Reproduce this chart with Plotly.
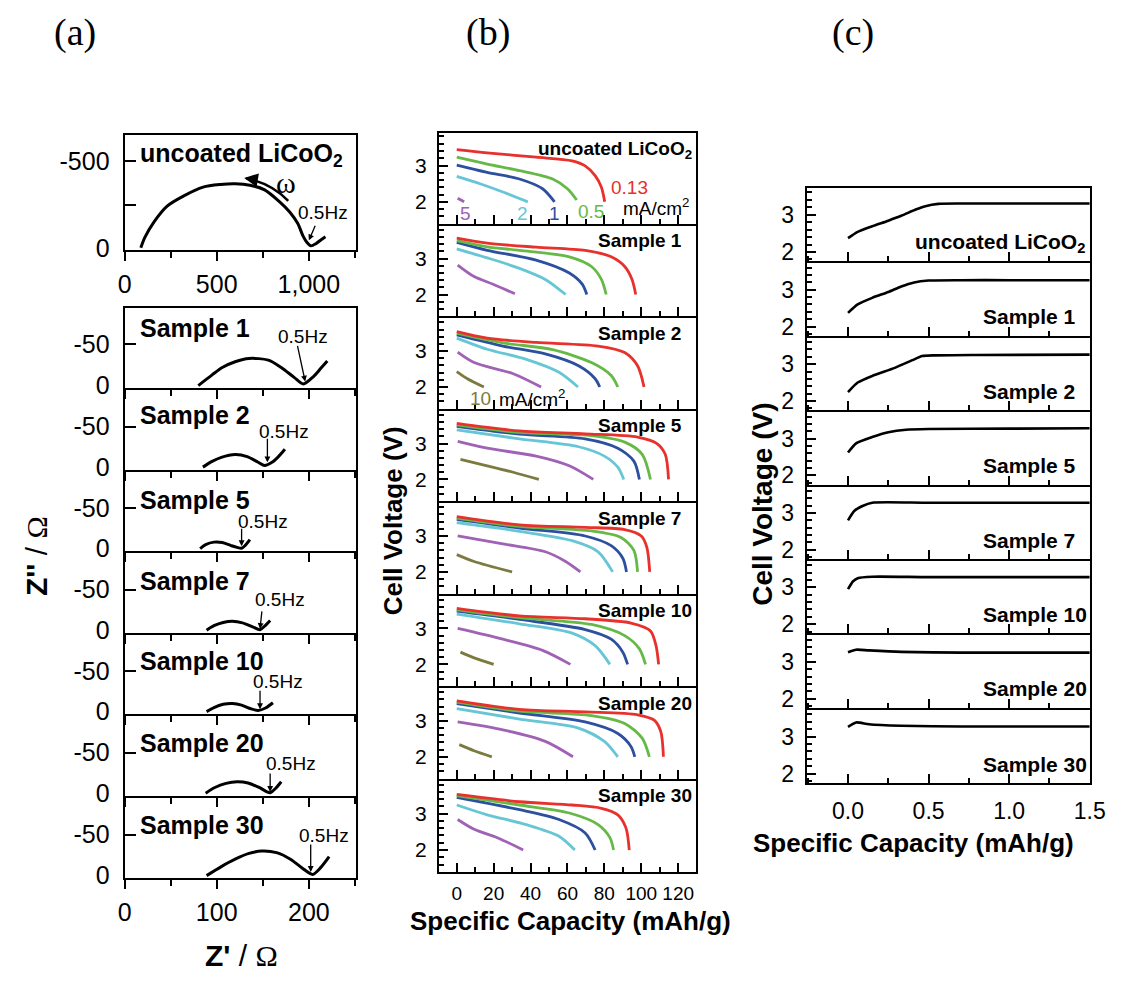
import plotly.graph_objects as go

W, H = 1145, 985
SANS = "Liberation Sans, Arial, Helvetica, sans-serif"
SERIF = "Liberation Serif, Times New Roman, Times, serif"

# ---------------- (a) Nyquist spectra: Z' and Z'' in ohm ----------------
a_titles = ["uncoated LiCoO<sub>2</sub>", "Sample 1", "Sample 2", "Sample 5",
            "Sample 7", "Sample 10", "Sample 20", "Sample 30"]

zre_uncoated = [88, 110, 160, 231, 319, 426, 520, 600, 680, 760, 843, 896, 940, 968, 990, 1011, 1040, 1065, 1090]
zim_uncoated = [0, -60, -150, -241, -299, -351, -366, -370, -362, -335, -264, -207, -140, -69, -30, -11, -25, -45, -63]
zre_s1 = [80, 95, 106, 120, 135, 156, 170, 184, 194, 205, 213, 220]
zim_s1 = [0, -13, -22, -29, -33, -31, -22, -10, -2, -11, -21, -30]
zre_s2 = [85, 95, 105, 120, 133, 145, 152, 160, 167, 174]
zim_s2 = [0, -7, -12, -15.5, -13, -6, -2, -6, -13, -22]
zre_s5 = [82, 88, 97, 106, 115, 122, 127, 131, 136]
zim_s5 = [0, -5, -8, -7.5, -4, -1.5, -0.5, -4, -11]
zre_s7 = [89, 97, 107, 117, 128, 139, 147, 152, 158]
zim_s7 = [0, -5.5, -9.5, -11, -9, -4, -0.5, -5, -12]
zre_s10 = [89, 97, 107, 117, 127, 137, 145, 153, 161]
zim_s10 = [0, -5, -9, -10, -8, -3.5, -1.5, -4.5, -11]
zre_s20 = [88, 98, 110, 122, 134, 146, 154, 158, 164, 170]
zim_s20 = [0, -7, -12, -14, -12.5, -7, -2, -0.5, -6, -14]
zre_s30 = [89, 105, 120, 135, 149, 165, 180, 193, 204, 213, 222]
zim_s30 = [0, -11, -20, -27, -30, -28, -20, -9, -1.5, -10, -23]

a_zre = [zre_uncoated, zre_s1, zre_s2, zre_s5, zre_s7, zre_s10, zre_s20, zre_s30]
a_zim = [zim_uncoated, zim_s1, zim_s2, zim_s5, zim_s7, zim_s10, zim_s20, zim_s30]

# 0.5 Hz point on each spectrum
f05_zre = [1000, 196, 155, 127, 147, 147, 158, 202]
f05_zim = [-43, -5, -6, -3, -1.5, -3, -1.5, -4.5]

# ---------------- (b) discharge curves: capacity (mAh/g), voltage (V) ----------------
rates = ["0.13", "0.5", "1", "2", "5", "10"]
rate_colors = ["#e8302c", "#66b946", "#2c4f9e", "#66c6d6", "#a062b4", "#7c7a3e"]

b_uncoated_cap = [[0, 16.5, 43, 62.5, 69.6, 75, 78.4, 80.2],
                  [0, 16.5, 34, 52, 60, 65],
                  [0, 16.5, 34, 46.5, 53],
                  [0, 13, 25, 38.5],
                  [0.5, 4]]
b_uncoated_v = [[3.44, 3.35, 3.23, 3.13, 2.99, 2.72, 2.4, 2.0],
                [3.23, 3.04, 2.86, 2.63, 2.36, 2.05],
                [3.01, 2.81, 2.63, 2.36, 2.0],
                [2.70, 2.49, 2.27, 2.0],
                [2.1, 2.0]]
b_s1_cap = [[0, 16.5, 43, 69.6, 83.7, 91, 95, 97],
            [0, 16.5, 34, 61, 73, 78.4, 81],
            [0, 16.5, 43, 61, 68, 70.5],
            [0, 16.5, 34, 48, 59],
            [0.5, 9.4, 20, 31.5]]
b_s1_v = [[3.57, 3.43, 3.32, 3.23, 3.05, 2.78, 2.42, 2.0],
          [3.5, 3.33, 3.23, 3.05, 2.78, 2.42, 2.0],
          [3.45, 3.23, 2.96, 2.6, 2.29, 2.0],
          [3.27, 3.02, 2.73, 2.42, 2.0],
          [2.82, 2.5, 2.28, 2.02]]
b_s2_cap = [[0, 16.5, 43, 76.6, 91, 98, 101.5],
            [0, 25, 52, 73, 83.7, 87.3],
            [0, 25, 48, 66, 75, 77.5],
            [0, 16.5, 37.7, 55.4, 65.7],
            [0.5, 9.4, 30.6, 45.7],
            [0, 5.8, 14.7]]
b_s2_v = [[3.54, 3.36, 3.24, 3.14, 2.96, 2.59, 2.0],
          [3.5, 3.23, 3.04, 2.68, 2.32, 2.0],
          [3.45, 3.14, 2.92, 2.59, 2.23, 2.0],
          [3.36, 3.05, 2.77, 2.41, 2.0],
          [2.97, 2.68, 2.37, 2.0],
          [2.43, 2.23, 2.0]]
b_s5_cap = [[0, 34, 69.6, 98, 108.5, 113, 114.8],
            [0, 34, 73, 91, 100.5, 105],
            [0, 34, 69.6, 87.3, 96, 99],
            [0, 34, 66, 80, 87.3, 90.5],
            [0.5, 16.5, 43, 61, 74],
            [2, 16.5, 30.6, 44.5]]
b_s5_v = [[3.56, 3.35, 3.27, 3.18, 3.0, 2.7, 2.0],
          [3.52, 3.31, 3.22, 3.04, 2.7, 2.0],
          [3.48, 3.26, 3.13, 2.87, 2.51, 2.0],
          [3.38, 3.13, 2.91, 2.65, 2.34, 2.0],
          [3.06, 2.87, 2.65, 2.38, 2.0],
          [2.56, 2.38, 2.2, 2.0]]
b_s7_cap = [[0, 34, 69.6, 91, 100, 103, 104.6],
            [0, 34, 73, 89, 96, 98],
            [0, 34, 69.6, 83.7, 90, 92],
            [0, 34, 62.5, 76.6, 84.5],
            [0.5, 25, 48, 59, 67],
            [0, 9.4, 30]]
b_s7_v = [[3.54, 3.31, 3.24, 3.18, 3.0, 2.69, 2.0],
          [3.5, 3.27, 3.14, 2.96, 2.6, 2.0],
          [3.46, 3.22, 3.0, 2.73, 2.38, 2.0],
          [3.37, 3.13, 2.87, 2.56, 2.0],
          [3.0, 2.78, 2.56, 2.29, 2.0],
          [2.48, 2.29, 2.0]]
b_s10_cap = [[0, 34, 69.6, 94.4, 105, 108, 109.4],
             [0, 34, 73, 91, 99, 102.3],
             [0, 34, 69.6, 83.7, 90, 92.6],
             [0, 34, 62.5, 75, 83],
             [0.5, 25, 46.5, 61.6],
             [2, 9.4, 20]]
b_s10_v = [[3.56, 3.35, 3.27, 3.15, 2.93, 2.52, 2.0],
           [3.52, 3.3, 3.11, 2.8, 2.43, 2.0],
           [3.48, 3.25, 2.97, 2.7, 2.34, 2.0],
           [3.4, 3.13, 2.87, 2.52, 2.0],
           [3.0, 2.7, 2.39, 2.0],
           [2.34, 2.18, 2.0]]
b_s20_cap = [[0, 34, 69.6, 98, 107, 110.6, 112],
             [0, 34, 73, 91, 100.5, 104.4],
             [0, 34, 69.6, 87.3, 94.4, 96.5],
             [0, 34, 66, 80, 87.3],
             [0.5, 25, 48, 63],
             [1.4, 9.4, 19]]
b_s20_v = [[3.56, 3.32, 3.25, 3.17, 3.02, 2.7, 2.0],
           [3.52, 3.27, 3.15, 2.93, 2.52, 2.0],
           [3.48, 3.22, 2.97, 2.65, 2.29, 2.0],
           [3.34, 3.05, 2.8, 2.43, 2.0],
           [2.97, 2.75, 2.43, 2.0],
           [2.34, 2.17, 2.0]]
b_s30_cap = [[0, 34, 62.5, 78.4, 87.3, 91.7, 93.5],
             [0, 34, 61, 76.6, 83, 85],
             [0, 34, 55.4, 69.6, 75],
             [0, 16.5, 37.7, 55.4, 64],
             [0.5, 9.4, 22, 36]]
b_s30_v = [[3.53, 3.33, 3.24, 3.15, 2.97, 2.61, 2.0],
           [3.5, 3.24, 3.02, 2.7, 2.34, 2.0],
           [3.45, 3.11, 2.84, 2.47, 2.0],
           [3.24, 2.97, 2.7, 2.38, 2.0],
           [2.84, 2.57, 2.34, 2.0]]

b_cap = [b_uncoated_cap, b_s1_cap, b_s2_cap, b_s5_cap, b_s7_cap, b_s10_cap, b_s20_cap, b_s30_cap]
b_v = [b_uncoated_v, b_s1_v, b_s2_v, b_s5_v, b_s7_v, b_s10_v, b_s20_v, b_s30_v]

# ---------------- (c) initial charge curves: capacity (mAh/g), voltage (V) ----------------
c_uncoated_cap = [0, 0.06, 0.15, 0.25, 0.33, 0.42, 0.48, 0.56, 0.7, 1.0, 1.5]
c_uncoated_v = [2.37, 2.54, 2.69, 2.84, 2.97, 3.14, 3.23, 3.29, 3.3, 3.3, 3.3]
c_s1_cap = [0, 0.06, 0.15, 0.25, 0.33, 0.41, 0.5, 0.7, 1.0, 1.5]
c_s1_v = [2.37, 2.6, 2.78, 2.94, 3.09, 3.2, 3.25, 3.26, 3.26, 3.26]
c_s2_cap = [0, 0.06, 0.15, 0.29, 0.4, 0.46, 0.54, 0.8, 1.5]
c_s2_v = [2.24, 2.5, 2.68, 2.9, 3.11, 3.22, 3.24, 3.25, 3.26]
c_s5_cap = [0, 0.05, 0.15, 0.25, 0.36, 0.5, 1.0, 1.5]
c_s5_v = [2.62, 2.87, 3.04, 3.17, 3.24, 3.26, 3.27, 3.28]
c_s7_cap = [0, 0.04, 0.09, 0.15, 0.5, 1.5]
c_s7_v = [2.8, 3.06, 3.19, 3.28, 3.28, 3.28]
c_s10_cap = [0, 0.03, 0.06, 0.15, 0.5, 1.5]
c_s10_v = [2.95, 3.16, 3.25, 3.29, 3.28, 3.28]
c_s20_cap = [0, 0.05, 0.13, 0.33, 0.7, 1.5]
c_s20_v = [3.26, 3.33, 3.31, 3.27, 3.25, 3.25]
c_s30_cap = [0, 0.05, 0.13, 0.33, 0.7, 1.5]
c_s30_v = [3.26, 3.38, 3.33, 3.29, 3.27, 3.27]

c_cap = [c_uncoated_cap, c_s1_cap, c_s2_cap, c_s5_cap, c_s7_cap, c_s10_cap, c_s20_cap, c_s30_cap]
c_v = [c_uncoated_v, c_s1_v, c_s2_v, c_s5_v, c_s7_v, c_s10_v, c_s20_v, c_s30_v]

# ---------------- figure construction ----------------
fig = go.Figure()
axes = {}
notes = []
shapes = []
counter = [0]
LW = 2  # frame line width; stacked frames are spaced by LW so shared edges coincide


def new_panel(box, xr, yr, xspec, yspec):
    counter[0] += 1
    idx = counter[0]
    sfx = "" if idx == 1 else str(idx)
    l, t, r, b = box
    common = dict(showline=True, mirror=True, linecolor="black", linewidth=LW,
                  showgrid=False, zeroline=False, tickcolor="black", tickwidth=2,
                  fixedrange=True)
    axes["xaxis" + sfx] = dict(common, domain=[l / W, r / W], range=xr,
                               anchor="y" + sfx, **xspec)
    axes["yaxis" + sfx] = dict(common, domain=[1 - b / H, 1 - t / H], range=yr,
                               anchor="x" + sfx, **yspec)
    return "x" + sfx, "y" + sfx


def stack(left, right, top, bottom, n):
    step = (bottom - top) / n
    return [(left, top + k * step + (LW / 2 if k else 0), right,
             top + (k + 1) * step - (LW / 2 if k < n - 1 else 0)) for k in range(n)]


def text(px, py, s, size, bold=False, family=SANS, color="black", xanchor="center",
         angle=0):
    notes.append(dict(xref="paper", yref="paper", x=px / W, y=1 - py / H,
                      text=f"<b>{s}</b>" if bold else s, showarrow=False,
                      xanchor=xanchor, yanchor="middle", textangle=angle,
                      font=dict(family=family, size=size, color=color)))


# ----- (a) -----
a_tickfont = dict(family=SANS, size=25, color="black")
a_boxes = [(120, 137, 356, 253)] + stack(120, 356, 311, 888, 7)
a_title_dy = [20, 21, 25, 29, 28, 27, 27, 28]
a_arrow_tail = [(7, -16), (-8, -37), (0, -25), (0, -19), (2, -19), (0, -20), (0, -20), (0, -29)]
a_label_off = [(14, -28), (-2, -45), (17, -31), (21, -25), (20, -29), (18, -28), (21, -28), (13, -36)]

for i in range(8):
    top_panel = i == 0
    last = i == 7
    if top_panel:
        xspec = dict(ticks="outside", ticklen=9, dtick=500, tick0=0, separatethousands=True,
                     minor=dict(ticks="outside", ticklen=6, dtick=250, tickwidth=2, tickcolor="black"),
                     showticklabels=True, tickfont=a_tickfont, ticklabelstandoff=2, tickangle=0)
        yspec = dict(ticks="", tickmode="array", tickvals=[-500, 0],
                     ticktext=["-500", "0"], tickfont=a_tickfont, ticklabelstandoff=8,
                     minor=dict(ticks="inside", ticklen=11, tickmode="array", tickvals=[-500, -250],
                                tickwidth=2, tickcolor="black"))
        xr, yr = [0, 1255], [14, -650]
    else:
        xspec = dict(ticks="outside", ticklen=9, dtick=100, tick0=0,
                     minor=dict(ticks="outside", ticklen=6, dtick=50, tickwidth=2, tickcolor="black"),
                     showticklabels=last, tickfont=a_tickfont, ticklabelstandoff=2, tickangle=0)
        yspec = dict(ticks="", tickmode="array", tickvals=[-50, 0],
                     ticktext=["-50", "0"], tickfont=a_tickfont, ticklabelstandoff=8,
                     minor=dict(ticks="inside", ticklen=11, tickmode="array", tickvals=[-50],
                                tickwidth=2, tickcolor="black"))
        xr, yr = [0, 251], [3, -95]
    xa, ya = new_panel(a_boxes[i], xr, yr, xspec, yspec)
    fig.add_trace(go.Scatter(x=a_zre[i], y=a_zim[i], xaxis=xa, yaxis=ya, mode="lines",
                             line=dict(color="black", width=3, shape="spline", smoothing=0.8),
                             showlegend=False, hoverinfo="skip"))
    # 0.5 Hz marker arrow and label
    tx, ty = a_arrow_tail[i]
    notes.append(dict(xref=xa, yref=ya, x=f05_zre[i], y=f05_zim[i], ax=tx, ay=ty, text="",
                      showarrow=True, arrowhead=2, arrowsize=0.9, arrowwidth=1.3,
                      arrowcolor="black"))
    lx, ly = a_label_off[i]
    notes.append(dict(xref=xa, yref=ya, x=f05_zre[i], y=f05_zim[i], xshift=lx, yshift=-ly,
                      text="0.5Hz", showarrow=False,
                      font=dict(family=SANS, size=19, color="black")))
    l, t, r, b = a_boxes[i]
    text(134, t + a_title_dy[i], a_titles[i], 25, bold=True, xanchor="left")
    if top_panel:
        # frequency direction arrow along the semicircle
        shapes.append(dict(type="path", xref=xa, yref=ya,
                           path="M 888,-272 Q 798,-372 660,-402",
                           line=dict(color="black", width=2.5)))
        notes.append(dict(xref=xa, yref=ya, x=649, y=-404, ax=12, ay=2, text="",
                          showarrow=True, arrowhead=2, arrowsize=1.1, arrowwidth=2.5,
                          arrowcolor="black"))
        notes.append(dict(xref=xa, yref=ya, x=877, y=-380, text="ω", showarrow=False,
                          font=dict(family=SERIF, size=30, color="black")))

text(239, 966, "<b>Z'</b> / <span style=\"font-family:Liberation Serif\">Ω</span>", 30,
     family=SANS)
text(30, 562, "<b>Z''</b> / <span style=\"font-family:Liberation Serif\">Ω</span>", 30,
     family=SANS, angle=-90)

# ----- (b) -----
b_tickfont = dict(family=SANS, size=19, color="black")
b_boxes = stack(440.7, 703, 134, 882, 8)
for i in range(8):
    last = i == 7
    box = b_boxes[i]
    xspec = dict(ticks="inside", ticklen=9, dtick=20, tick0=0, tickangle=0,
                 minor=dict(ticks="inside", ticklen=5, dtick=10, tickwidth=2, tickcolor="black"),
                 showticklabels=last, tickfont=b_tickfont, ticklabelstandoff=3)
    yspec = dict(ticks="inside", ticklen=9, dtick=1, tick0=0,
                 minor=dict(ticks="inside", ticklen=5, dtick=0.2, tickwidth=1.5, tickcolor="black"),
                 tickfont=dict(b_tickfont, size=21), ticklabelstandoff=6)
    xa, ya = new_panel(box, [-9.7, 129.6], [1.39, 3.91], xspec, yspec)
    for j in reversed(range(len(b_cap[i]))):
        fig.add_trace(go.Scatter(x=b_cap[i][j], y=b_v[i][j], xaxis=xa, yaxis=ya, mode="lines",
                                 line=dict(color=rate_colors[j], width=2.8, shape="spline",
                                           smoothing=0.8),
                                 showlegend=False, hoverinfo="skip"))
    if i == 0:
        text(540, box[1] + 18, a_titles[i], 19, bold=True, xanchor="left")
        b_lab_pos = [(93.5, 2.39), (72.5, 1.73), (52.8, 1.68), (35.6, 1.68), (4.8, 1.68)]
        for j, (cx, cv) in enumerate(b_lab_pos):
            notes.append(dict(xref=xa, yref=ya, x=cx, y=cv, text=rates[j], showarrow=False,
                              borderpad=0, font=dict(family=SANS, size=19, color=rate_colors[j])))
        notes.append(dict(xref=xa, yref=ya, x=108, y=1.85, text="mA/cm<sup>2</sup>",
                          showarrow=False, borderpad=0,
                          font=dict(family=SANS, size=19, color="black")))
    else:
        text(601, box[1] + 15, a_titles[i], 19, bold=True, xanchor="left")
    if i == 2:
        notes.append(dict(xref=xa, yref=ya, x=13, y=1.69, text=rates[5], showarrow=False,
                          font=dict(family=SANS, size=19, color=rate_colors[5])))
        notes.append(dict(xref=xa, yref=ya, x=40.9, y=1.69, text="mA/cm<sup>2</sup>",
                          showarrow=False, font=dict(family=SANS, size=19, color="black")))

text(575, 931, "Specific Capacity (mAh/g)", 26, bold=True)
text(394, 527, "Cell Voltage (V)", 26, bold=True, angle=-90)

# ----- (c) -----
c_tickfont = dict(family=SANS, size=23, color="black")
c_boxes = stack(816, 1105, 190, 792, 8)
for i in range(8):
    last = i == 7
    box = c_boxes[i]
    xspec = dict(ticks="inside", ticklen=9, dtick=0.5, tick0=0, tickformat=".1f", tickangle=0,
                 minor=dict(ticks="inside", ticklen=5, dtick=0.25, tickwidth=2, tickcolor="black"),
                 showticklabels=last, tickfont=c_tickfont, ticklabelstandoff=6)
    yspec = dict(ticks="inside", ticklen=9, dtick=1, tick0=0,
                 minor=dict(ticks="inside", ticklen=5, dtick=0.2, tickwidth=1.5, tickcolor="black"),
                 tickfont=c_tickfont, ticklabelstandoff=6)
    xa, ya = new_panel(box, [-0.257, 1.5005], [1.75, 3.72], xspec, yspec)
    fig.add_trace(go.Scatter(x=c_cap[i], y=c_v[i], xaxis=xa, yaxis=ya, mode="lines",
                             line=dict(color="black", width=2.6, shape="spline", smoothing=0.6),
                             showlegend=False, hoverinfo="skip"))
    text(925 if i == 0 else 994, box[3] - 19, a_titles[i], 21, bold=True, xanchor="left")

text(925, 853, "Specific Capacity (mAh/g)", 26, bold=True)
text(771, 510, "Cell Voltage (V)", 28, bold=True, angle=-90)

# panel letters
text(69, 33, "(a)", 38, family=SERIF)
text(491, 33, "(b)", 38, family=SERIF)
text(863, 33, "(c)", 38, family=SERIF)

fig.update_layout(width=W, height=H, margin=dict(l=0, r=0, t=0, b=0),
                  paper_bgcolor="white", plot_bgcolor="white",
                  font=dict(family=SANS, color="black"),
                  annotations=notes, shapes=shapes, showlegend=False, **axes)

fig.write_html("out.html")
